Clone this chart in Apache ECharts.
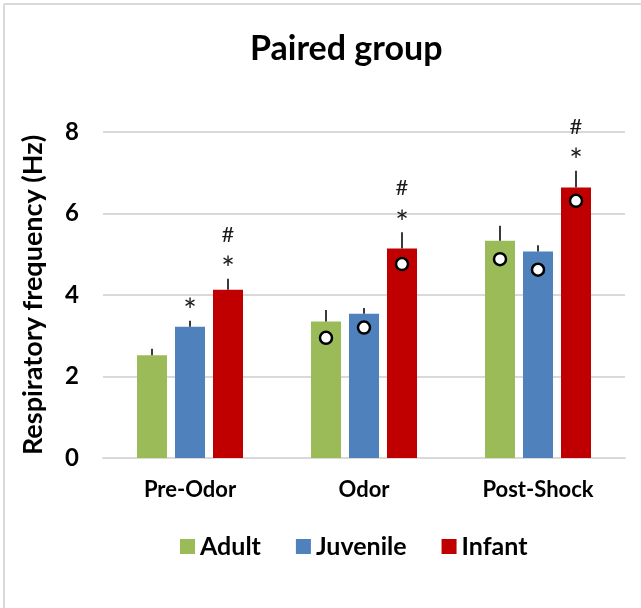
<!DOCTYPE html>
<html>
<head>
<meta charset="utf-8">
<script src="https://cdn.jsdelivr.net/npm/echarts@6/dist/echarts.min.js"></script>
<style>
  html, body { margin: 0; padding: 0; background: #fff; }
  #main { width: 641px; height: 608px; }
</style>
</head>
<body>
<div id="main"></div>
<script>
// data
var categories = ['Pre-Odor', 'Odor', 'Post-Shock'];
var seriesNames = ['Adult', 'Juvenile', 'Infant'];

var adultMean = [2.52, 3.35, 5.33];
var juvenileMean = [3.22, 3.54, 5.07];
var infantMean = [4.13, 5.14, 6.64];

var adultErr = [0.16, 0.28, 0.37];
var juvenileErr = [0.15, 0.14, 0.15];
var infantErr = [0.27, 0.40, 0.41];

// open circles drawn on the bars
var adultDot = [null, 2.95, 4.88];
var juvenileDot = [null, 3.20, 4.62];
var infantDot = [null, 4.76, 6.31];

// significance marks
var adultMarks = ['', '', ''];
var juvenileMarks = ['*', '', ''];
var infantMarks = ['#*', '#*', '#*'];

var yTicks = [0, 2, 4, 6, 8];

var colors = ['#9BBB59', '#4F81BD', '#C00000'];
var FONT = 'Lato, "Open Sans", sans-serif';

var BAR_W = 30, BAR_GAP = 8;

function extraData(mean, err, dot, marks) {
	var out = [];
	for (var i = 0; i < mean.length; i++) {
		out.push([i, mean[i], err[i], dot[i] == null ? '-' : dot[i], marks[i]]);
	}
	return out;
}

function makeRender(offset) {
	return function (params, api) {
		var cat = api.value(0);
		var mean = api.value(1);
		var err = api.value(2);
		var dot = api.value(3);
		var mark = api.value(4);
		var base = api.coord([cat, mean]);
		var top = api.coord([cat, mean + err]);
		var x = base[0] + offset;
		var children = [{
			type: 'line',
			shape: { x1: x, y1: base[1], x2: x, y2: top[1] },
			style: { stroke: '#3a3a3a', lineWidth: 2 }
		}];
		if (typeof dot === 'number' && !isNaN(dot)) {
			var p = api.coord([cat, dot]);
			children.push({
				type: 'circle',
				shape: { cx: x, cy: p[1], r: 6 },
				style: { fill: '#fff', stroke: '#000', lineWidth: 2.5 }
			});
		}
		if (mark) {
			if (mark.indexOf('*') >= 0) {
				children.push({
					type: 'text',
					style: {
						text: '*', x: x, y: top[1] - 9,
						align: 'center', verticalAlign: 'middle',
						font: '32px ' + FONT, fill: '#1a1a1a'
					}
				});
			}
			if (mark.indexOf('#') >= 0) {
				children.push({
					type: 'text',
					style: {
						text: '#', x: x, y: top[1] - 44,
						align: 'center', verticalAlign: 'middle',
						font: '22px ' + FONT, fill: '#1a1a1a'
					}
				});
			}
		}
		return { type: 'group', children: children };
	};
}

var chart = echarts.init(document.getElementById('main'), null, { renderer: 'canvas' });

var option = {
	backgroundColor: '#fff',
	animation: false,
	title: {
		text: 'Paired group',
		left: 245,
		top: 27,
		textStyle: { fontFamily: FONT, fontWeight: 'bold', fontSize: 34, color: '#000' }
	},
	legend: {
		data: seriesNames,
		top: 529,
		left: 175,
		icon: 'rect',
		itemWidth: 15,
		itemHeight: 15,
		itemGap: 35,
		textStyle: { fontFamily: FONT, fontWeight: 'bold', fontSize: 25, color: '#000' }
	},
	grid: { left: 103, right: 16, top: 132, bottom: 150, containLabel: false },
	xAxis: {
		type: 'category',
		data: categories,
		axisLine: { lineStyle: { color: '#d9d9d9', width: 2 } },
		axisTick: { show: false },
		axisLabel: { fontFamily: FONT, fontWeight: 'bold', fontSize: 22, color: '#000', margin: 21 }
	},
	yAxis: {
		type: 'value',
		min: yTicks[0],
		max: yTicks[yTicks.length - 1],
		interval: 2,
		name: 'Respiratory frequency (Hz)',
		nameLocation: 'middle',
		nameGap: 56,
		nameTextStyle: { fontFamily: FONT, fontWeight: 'bold', fontSize: 27, color: '#000' },
		axisLine: { show: false },
		axisTick: { show: false },
		axisLabel: { fontFamily: FONT, fontWeight: 'bold', fontSize: 24, color: '#000', margin: 24 },
		splitLine: { lineStyle: { color: '#d9d9d9', width: 2 } }
	},
	series: [
		{ name: 'Adult', type: 'bar', data: adultMean, barWidth: BAR_W, barGap: (BAR_GAP / BAR_W * 100) + '%', itemStyle: { color: colors[0] } },
		{ name: 'Juvenile', type: 'bar', data: juvenileMean, barWidth: BAR_W, barGap: (BAR_GAP / BAR_W * 100) + '%', itemStyle: { color: colors[1] } },
		{ name: 'Infant', type: 'bar', data: infantMean, barWidth: BAR_W, barGap: (BAR_GAP / BAR_W * 100) + '%', itemStyle: { color: colors[2] } },
		{ type: 'custom', name: 'adultExtra', renderItem: makeRender(-(BAR_W + BAR_GAP)), data: extraData(adultMean, adultErr, adultDot, adultMarks), encode: { x: 0, y: 1 }, z: 5 },
		{ type: 'custom', name: 'juvenileExtra', renderItem: makeRender(0), data: extraData(juvenileMean, juvenileErr, juvenileDot, juvenileMarks), encode: { x: 0, y: 1 }, z: 5 },
		{ type: 'custom', name: 'infantExtra', renderItem: makeRender(BAR_W + BAR_GAP), data: extraData(infantMean, infantErr, infantDot, infantMarks), encode: { x: 0, y: 1 }, z: 5 }
	],
	graphic: [
		{ type: 'line', shape: { x1: 4, y1: 4, x2: 4, y2: 608 }, style: { stroke: '#d9d9d9', lineWidth: 2 } },
		{ type: 'line', shape: { x1: 4, y1: 4, x2: 641, y2: 4 }, style: { stroke: '#d9d9d9', lineWidth: 2 } }
	]
};

chart.setOption(option);
</script>
</body>
</html>
